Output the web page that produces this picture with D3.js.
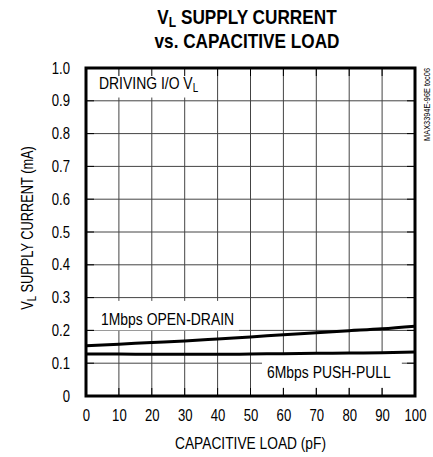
<!DOCTYPE html>
<html>
<head>
<meta charset="utf-8">
<script src="https://cdn.jsdelivr.net/npm/d3@7"></script>
<style>
body { margin: 0; background: #fff; }
svg text { font-family: "Liberation Sans", Arial, sans-serif; fill: #000; }
</style>
</head>
<body>
<svg id="chart"></svg>
<script>
var width = 433, height = 457;

// data
var loads = [0, 10, 20, 30, 40, 50, 60, 70, 80, 90, 100];
var openDrain = [0.153, 0.158, 0.163, 0.168, 0.174, 0.180, 0.187, 0.193, 0.199, 0.205, 0.213];
var pushPull = [0.128, 0.128, 0.127, 0.127, 0.127, 0.128, 0.129, 0.130, 0.131, 0.132, 0.134];
var xTicks = [0, 10, 20, 30, 40, 50, 60, 70, 80, 90, 100];
var yTicks = [0, 0.1, 0.2, 0.3, 0.4, 0.5, 0.6, 0.7, 0.8, 0.9, 1.0];

var margin = {top: 68, left: 86, bottom: 61, right: 18};
var chartWidth = width - margin.left - margin.right;
var chartHeight = height - margin.top - margin.bottom;
var NARROW = 0.82;

var svg = d3.select("#chart").attr("width", width).attr("height", height);

var xScale = d3.scaleLinear().domain([0, 100]).range([0, chartWidth]);
var yScale = d3.scaleLinear().domain([0, 1]).range([chartHeight, 0]);

// narrow text helper (Arial Narrow is Arial squeezed to 82%)
function label(parent, x, y, size, anchor, rot, sx) {
    return parent.append("text")
        .attr("transform", "translate(" + x + "," + y + ")" + (rot ? " rotate(" + rot + ")" : "") + " scale(" + (sx || NARROW) + ",1)")
        .attr("font-size", size)
        .attr("text-anchor", anchor || "start");
}

var g = svg.append("g").attr("transform", "translate(" + [margin.left, margin.top] + ")");

// grid
g.append("g").selectAll("line").data(xTicks.slice(1, -1)).enter().append("line")
    .attr("x1", function(d){ return xScale(d) }).attr("x2", function(d){ return xScale(d) })
    .attr("y1", 0).attr("y2", chartHeight)
    .attr("stroke", "#444").attr("stroke-width", 1);
g.append("g").selectAll("line").data(yTicks.slice(1, -1)).enter().append("line")
    .attr("y1", function(d){ return yScale(d) }).attr("y2", function(d){ return yScale(d) })
    .attr("x1", 0).attr("x2", chartWidth)
    .attr("stroke", "#444").attr("stroke-width", 1);

// white label boxes hide the grid
function labelBox(x0, y0, x1, y1) {
    g.append("rect")
        .attr("x", xScale(x0)).attr("y", yScale(y1))
        .attr("width", xScale(x1) - xScale(x0)).attr("height", yScale(y0) - yScale(y1))
        .attr("fill", "#fff");
}
labelBox(0, 0.91, 39, 1.0);
labelBox(2.4, 0.2, 46.5, 0.29);
labelBox(53.5, 0.025, 96, 0.128);

// inner ticks on all sides
var tk = 8;
var ticks = g.append("g").attr("stroke", "#000").attr("stroke-width", 1);
xTicks.forEach(function(d){
    ticks.append("line").attr("x1", xScale(d)).attr("x2", xScale(d)).attr("y1", 0).attr("y2", tk);
    ticks.append("line").attr("x1", xScale(d)).attr("x2", xScale(d)).attr("y1", chartHeight).attr("y2", chartHeight - tk);
});
yTicks.forEach(function(d){
    ticks.append("line").attr("y1", yScale(d)).attr("y2", yScale(d)).attr("x1", 0).attr("x2", tk);
    ticks.append("line").attr("y1", yScale(d)).attr("y2", yScale(d)).attr("x1", chartWidth).attr("x2", chartWidth - tk);
});

// curves
var lineGen = d3.line()
    .x(function(d, i){ return xScale(loads[i]) })
    .y(function(d){ return yScale(d) })
    .curve(d3.curveMonotoneX);

[openDrain, pushPull].forEach(function(s){
    g.append("path").attr("d", lineGen(s))
        .attr("fill", "none").attr("stroke", "#000").attr("stroke-width", 3);
});

// frame
g.append("rect").attr("width", chartWidth).attr("height", chartHeight)
    .attr("fill", "none").attr("stroke", "#000").attr("stroke-width", 3);

// axis labels
var xAxis = d3.axisBottom(xScale).tickValues(xTicks).tickSize(0).tickPadding(14).tickFormat(d3.format("d"));
var xa = g.append("g").attr("transform", "translate(0," + chartHeight + ")").call(xAxis);
xa.select(".domain").remove();
xa.selectAll("text").attr("font-size", 16).attr("font-family", null)
    .attr("transform", "scale(" + NARROW + ",1)");

var yAxis = d3.axisLeft(yScale).tickValues(yTicks).tickSize(0).tickPadding(16)
    .tickFormat(function(d){ return d === 0 ? "0" : d3.format(".1f")(d) });
var ya = g.append("g").call(yAxis);
ya.select(".domain").remove();
ya.selectAll("text").attr("font-size", 16).attr("font-family", null)
    .attr("x", -16 / NARROW)
    .attr("transform", "scale(" + NARROW + ",1)");

// in-plot labels
var t1 = label(g, 13, 21, 17);
t1.append("tspan").text("DRIVING I/O V");
t1.append("tspan").attr("font-size", 12).attr("dy", 3).text("L");

label(g, 15, yScale(0.2) - 5, 17).text("1Mbps OPEN-DRAIN");
label(g, 181, yScale(0.1) + 15, 17).text("6Mbps PUSH-PULL");

// title
var tl = label(svg, 247, 24, 20, "middle", 0, 0.86).attr("font-weight", "bold");
tl.append("tspan").text("V");
tl.append("tspan").attr("font-size", 14).attr("dy", 3).text("L");
tl.append("tspan").attr("dy", -3).text(" SUPPLY CURRENT");
label(svg, 247, 48, 20, "middle", 0, 0.86).attr("font-weight", "bold").text("vs. CAPACITIVE LOAD");

// axis titles
label(svg, margin.left + chartWidth / 2, 449, 16, "middle", 0, 0.86).text("CAPACITIVE LOAD (pF)");

var yt = label(svg, 33, 228, 16, "middle", -90, 0.8);
yt.append("tspan").text("V");
yt.append("tspan").attr("font-size", 12).attr("dy", 3).text("L");
yt.append("tspan").attr("dy", -3).text(" SUPPLY CURRENT (mA)");

// part number
label(svg, 430, 68, 9, "end", -90).text("MAX3394E-96E toc06");
</script>
</body>
</html>
